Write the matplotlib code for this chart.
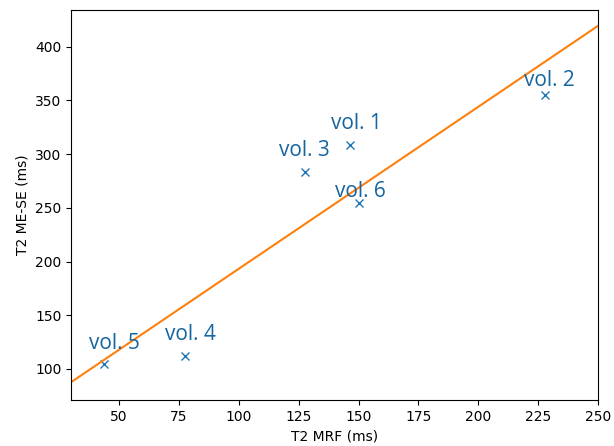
import matplotlib
matplotlib.use("Agg")
import matplotlib.pyplot as plt
import numpy as np

# T2 values per volunteer
labels = ["vol. 1", "vol. 2", "vol. 3", "vol. 4", "vol. 5", "vol. 6"]
t2_mrf = [146.5, 228.0, 127.5, 77.5, 43.5, 150.0]
t2_mese = [308.5, 355.0, 283.0, 112.0, 104.5, 254.5]

# fitted line
slope = 1.508
intercept = 42.5

# label shifts in pixels (dx, dy to baseline)
label_shift = [(6, 16), (4, 9), (0, 16), (5, 16), (11, 15), (2, 6)]

fig, ax = plt.subplots(figsize=(6.14, 4.46), dpi=100)
fig.subplots_adjust(left=0.116, right=0.974, top=0.977, bottom=0.103)

ax.plot(t2_mrf, t2_mese, "x", color="C0")
xs = np.array([30, 250])
ax.plot(xs, slope * xs + intercept, color="C1")

for lab, x, y, (dx, dy) in zip(labels, t2_mrf, t2_mese, label_shift):
    ax.annotate(lab, (x, y), xytext=(dx * 0.72, dy * 0.72), textcoords="offset points",
                ha="center", va="baseline", fontsize=15, color="#1565a0",
                family="Open Sans")

ax.set_xlim(30, 250)
ax.set_ylim(71, 434)
ax.set_xlabel("T2 MRF (ms)")
ax.set_ylabel("T2 ME-SE (ms)")

fig.savefig("out.png", dpi=100)
